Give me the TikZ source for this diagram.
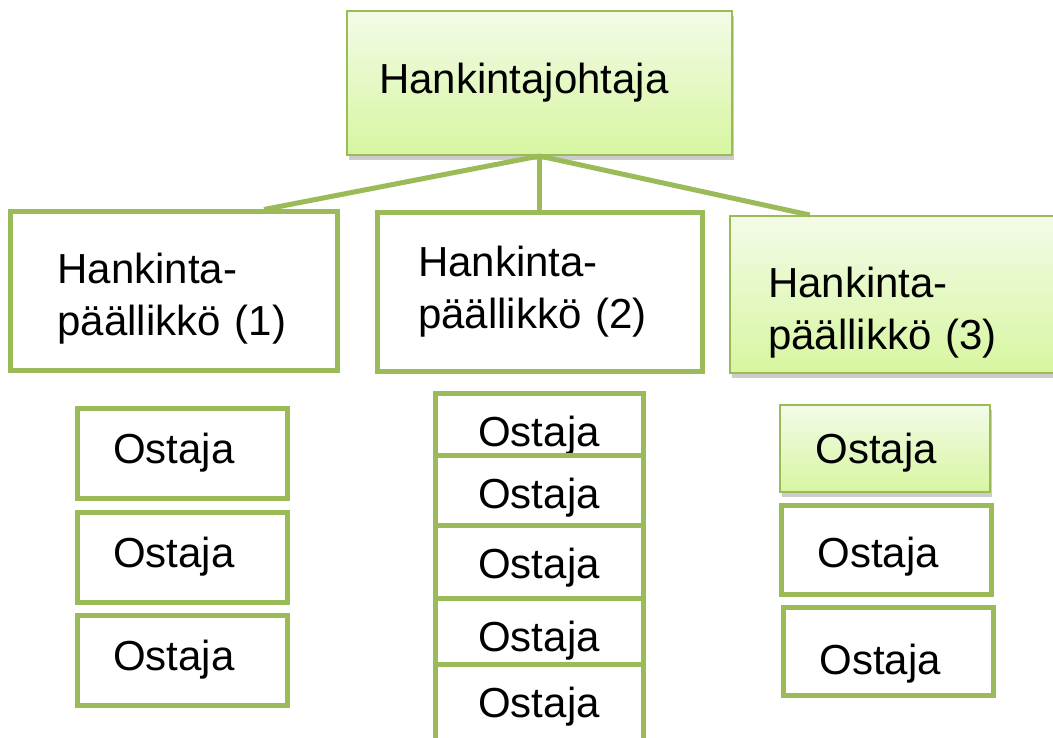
\documentclass[tikz,border=0pt]{standalone}
\usepackage{fontspec}
\setmainfont{Liberation Sans}
\usetikzlibrary{shadows}
\definecolor{hkgreen}{RGB}{155,187,89}
\definecolor{hktop}{RGB}{243,251,232}
\definecolor{hkbot}{RGB}{215,246,160}
\begin{document}
\begin{tikzpicture}
        [x=1pt, y=-1pt,
        font=\fontsize{42}{52}\selectfont,
        box/.style={rectangle, draw=hkgreen, line width=5pt, fill=white, inner sep=0pt},
        lit/.style={draw=hkgreen, line width=2pt, top color=hktop, bottom color=hkbot,
            drop shadow={shadow xshift=2pt, shadow yshift=-5pt, opacity=0.4}},
        buyer/.style={box, text width=138pt, inner xsep=36pt, align=left, minimum height=90pt},
        link/.style={draw=hkgreen, line width=5pt}]
        \useasboundingbox (0,0) rectangle (1053,738);
        \clip (0,0) rectangle (1053,738);
        % johtaja ja paallikot
        \node[box, lit, minimum width=385pt, minimum height=144pt,
            text width=321pt, inner xsep=32pt, align=left]
            (hj) at (539.5,83) {Hankintajohtaja};
        \node[box, minimum width=327pt, minimum height=158pt,
            text width=232pt, inner xsep=47.5pt, align=left]
            (p1) at (173.5,291) {\rule{0pt}{45pt}Hankinta-\\päällikkö (1)};
        \node[box, minimum width=325pt, minimum height=158pt,
            text width=243pt, inner xsep=41pt, align=left]
            (p2) at (539.5,292) {Hankinta-\\päällikkö (2)};
        \node[box, lit, minimum width=330pt, minimum height=157pt,
            text width=254pt, inner xsep=38pt, align=left]
            (p3) at (895,294.5) {\rule{0pt}{67pt}Hankinta-\\päällikkö (3)};
        \draw[link] (hj.south) -- (p1.42);
        \draw[link] (hj.south) -- (p2.north);
        \draw[link] (hj.south) -- (p3.137);
        % ostajat
        \node[buyer] (o11) at (182,453) {Ostaja};
        \node[buyer] (o12) at (182,557) {Ostaja};
        \node[buyer] (o13) at (182,660) {Ostaja};
        \foreach \y [count=\i] in {435.5,497.5,567.5,640.5,706.5}
            \node[buyer, align=center, inner xsep=35pt, minimum height=85pt] (o2\i) at (539,\y) {Ostaja};
        \node[buyer, lit, minimum height=87pt, text height=39pt] (o31) at (884.5,448.5) {Ostaja};
        \node[buyer, minimum height=89pt, text height=45pt] (o32) at (886.5,549.5) {Ostaja};
        \node[buyer, minimum height=88pt, text height=55pt] (o33) at (888.5,651) {Ostaja};
\end{tikzpicture}
\end{document}
